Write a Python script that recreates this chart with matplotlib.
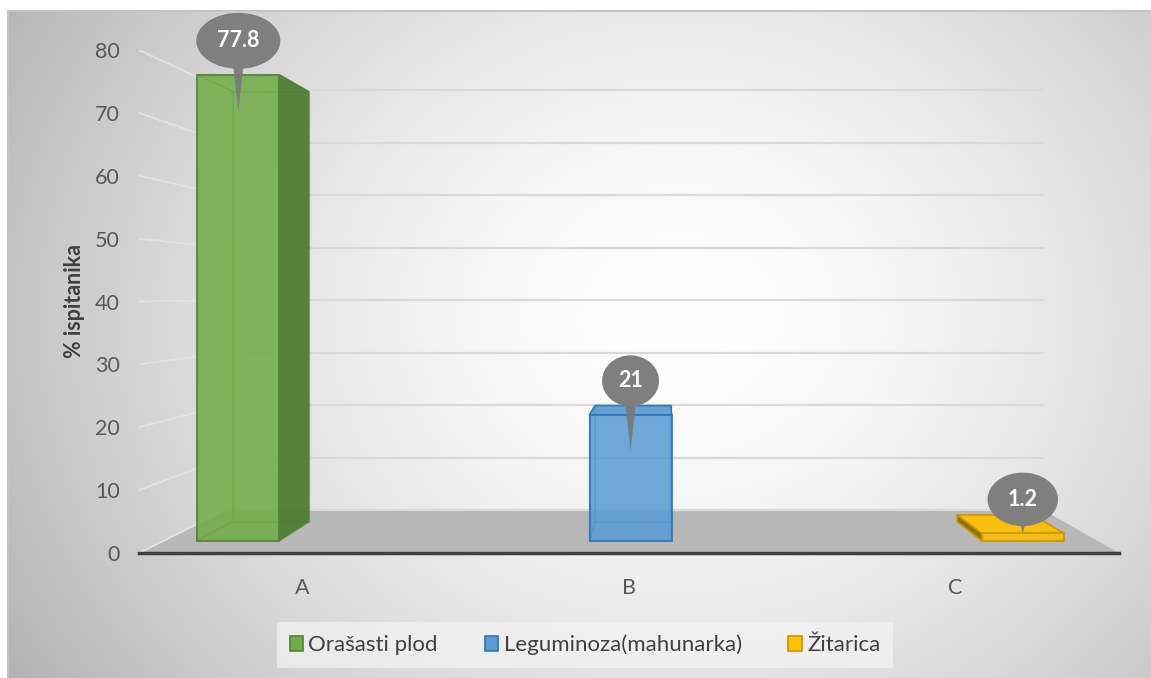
import numpy as np
import matplotlib.pyplot as plt
from matplotlib.patches import Polygon, Ellipse, Patch

categories = ['A', 'B', 'C']
values = [77.8, 21, 1.2]
series = ['Orašasti plod', 'Leguminoza(mahunarka)', 'Žitarica']
yticks = [0, 10, 20, 30, 40, 50, 60, 70, 80]

face_colors = ['#70ad47', '#5b9bd5', '#ffc000']
edge_colors = ['#548235', '#2e75b6', '#c79600']
side_colors = ['#4a7a2e', '#3a6e9e', '#8a6a00']

plt.rcParams['font.family'] = ['Lato', 'DejaVu Sans']

W, H = 1151, 678
fig = plt.figure(figsize=(W / 100, H / 100), dpi=100)

# background with soft radial gradient
bg = fig.add_axes([0, 0, 1, 1])
yy, xx = np.mgrid[0:H, 0:W]
r = np.hypot((xx - 680) / 720, (yy - 320) / 620)
shade = 1 - 0.26 * np.clip(r, 0, 1.4) ** 1.6
img = np.dstack([shade] * 3)
img[:11, :] = 1
img[:, :8] = 1
bg.imshow(img, extent=[0, W, H, 0], aspect='auto', interpolation='bilinear')
bg.plot([8, W], [11, 11], color='#c4c4c4', lw=1.5)
bg.plot([8, 8], [11, H], color='#c4c4c4', lw=1.5)
bg.set_xlim(0, W)
bg.set_ylim(H, 0)
bg.axis('off')

# main axes = front plane of the floor
ax = fig.add_axes([139 / W, (H - 553) / H, 980 / W, 503 / H])
ax.set_facecolor('none')
floor_x = (-83.0, 72.8)
ax.set_xlim(floor_x)
ax.set_ylim(0, 80)

# fake perspective: depth factor k shrinks towards the eye point
eye = 41.3
k_front, k_back, k_wall = 0.952, 0.879, 0.835
bar_w = 13.7
centers = [floor_x[0] + 12.4 + i * 65.5 for i in range(len(values))]
px = 80 / 503  # data units per pixel


def proj(x, v, k):
    return k * x, eye - k * (eye - v)


# floor
floor = [proj(floor_x[0], 0, 1), proj(floor_x[1], 0, 1),
         proj(floor_x[1], 0, k_wall), proj(floor_x[0], 0, k_wall)]
ax.add_patch(Polygon(floor, closed=True, facecolor='#b8b8b8', edgecolor='none', zorder=1))

# gridlines on back wall and side
for v in yticks:
    a = proj(floor_x[0], v, k_wall)
    b = proj(floor_x[1], v, k_wall)
    ax.plot([a[0], b[0]], [a[1], b[1]], color='#d9d9d9', lw=1.6, zorder=2)
    f = proj(floor_x[0], v, 1)
    ax.plot([f[0], a[0]], [f[1], a[1]], color='#e2e2e2', lw=1.4, zorder=2)

# bars
for i, v in enumerate(values):
    c = centers[i]
    x0, x1 = c - bar_w / 2, c + bar_w / 2

    def face(pts):
        return [proj(x, y, k) for x, y, k in pts]

    back = face([(x0, 0, k_back), (x1, 0, k_back), (x1, v, k_back), (x0, v, k_back)])
    front = face([(x0, 0, k_front), (x1, 0, k_front), (x1, v, k_front), (x0, v, k_front)])
    left = face([(x0, 0, k_front), (x0, 0, k_back), (x0, v, k_back), (x0, v, k_front)])
    right = face([(x1, 0, k_front), (x1, 0, k_back), (x1, v, k_back), (x1, v, k_front)])
    top = face([(x0, v, k_front), (x1, v, k_front), (x1, v, k_back), (x0, v, k_back)])
    bottom = face([(x0, 0, k_front), (x1, 0, k_front), (x1, 0, k_back), (x0, 0, k_back)])

    fc, ec, sc = face_colors[i], edge_colors[i], side_colors[i]
    hidden = [back, bottom]
    visible = []
    if x1 < 0:
        visible.append((right, sc))
        hidden.append(left)
    elif x0 > 0:
        visible.append((left, sc))
        hidden.append(right)
    else:
        hidden += [left, right]
    if v < eye:
        visible.append((top, fc))
    else:
        hidden.append(top)

    for pts in hidden:
        ax.add_patch(Polygon(pts, closed=True, facecolor=fc, alpha=0.25,
                             edgecolor='none', zorder=3))
        ax.add_patch(Polygon(pts, closed=True, facecolor='none', edgecolor=ec,
                             lw=1.0, alpha=0.5, zorder=3))
    for pts, col in visible:
        ax.add_patch(Polygon(pts, closed=True, facecolor=col, alpha=0.9,
                             edgecolor=ec, lw=1.2, zorder=4))
    ax.add_patch(Polygon(front, closed=True, facecolor=fc, alpha=0.82,
                         edgecolor=ec, lw=1.5, zorder=5))

# callouts
for i, v in enumerate(values):
    label = f'{v:g}'
    xt, yt = proj(centers[i], v, k_front)
    tip_v = v - 6 if v > 6 else v
    xtip, ytip = proj(centers[i], tip_v, k_front)
    cy = yt + 34 * px
    ew = (30 + 13.5 * len(label)) * px
    eh = (46 + 2.5 * len(label)) * px
    tail = [(xt - 7 * px, cy - 8 * px), (xt + 7 * px, cy - 8 * px), (xtip, ytip)]
    ax.add_patch(Polygon(tail, closed=True, facecolor='#7a7a7a', edgecolor='none',
                         alpha=0.95, zorder=6, clip_on=False))
    ax.add_patch(Ellipse((xt, cy), ew, eh, facecolor='#7f7f7f', edgecolor='none',
                         zorder=6, clip_on=False))
    ax.text(xt, cy, label, ha='center', va='center', color='white',
            fontsize=15.5, fontweight='bold', zorder=7)

# axes styling
ax.set_yticks(yticks)
ax.set_xticks([floor_x[0] + (i + 0.5) * (floor_x[1] - floor_x[0]) / 3 for i in range(3)])
ax.set_xticklabels(categories)
ax.tick_params(axis='y', length=0, pad=14, labelsize=15.5, labelcolor='#595959')
ax.tick_params(axis='x', length=0, pad=18, labelsize=15.5, labelcolor='#595959')
for s in ['top', 'right', 'left']:
    ax.spines[s].set_visible(False)
ax.spines['bottom'].set_color('#404040')
ax.spines['bottom'].set_linewidth(2.5)
ax.set_ylabel('% ispitanika', fontsize=15.5, fontweight='bold', color='#404040')
ax.yaxis.set_label_coords(-(139 - 85) / 980, 0.5)

handles = [Patch(facecolor=face_colors[i], edgecolor=edge_colors[i], lw=1.2)
           for i in range(3)]
leg = fig.legend(handles, series, loc='center', bbox_to_anchor=(585 / W, 1 - 645 / H),
                 ncol=3, fontsize=16, frameon=True, fancybox=False,
                 handlelength=0.6, handleheight=0.6, handletextpad=0.25,
                 columnspacing=2.1, borderpad=0.55, borderaxespad=0,
                 labelcolor='#404040')
leg.get_frame().set_facecolor('#f4f4f4')
leg.get_frame().set_alpha(0.7)
leg.get_frame().set_edgecolor('none')

fig.savefig('out.png', dpi=100)
